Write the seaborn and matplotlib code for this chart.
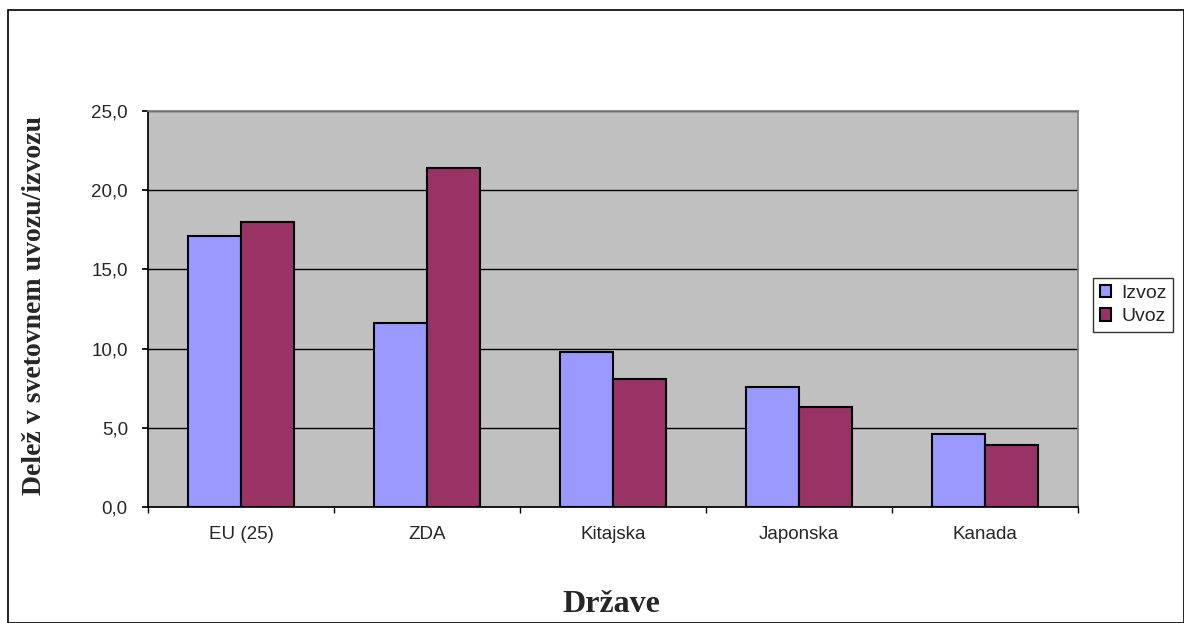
import matplotlib
matplotlib.use("Agg")
import matplotlib.pyplot as plt
import seaborn as sns
import pandas as pd
from matplotlib.patches import Rectangle

categories = ["EU (25)", "ZDA", "Kitajska", "Japonska", "Kanada"]
izvoz = [17.1, 11.6, 9.8, 7.6, 4.6]
uvoz = [18.0, 21.4, 8.1, 6.3, 3.9]
series = ["Izvoz", "Uvoz"]
yticks = [0, 5, 10, 15, 20, 25]

df = pd.DataFrame({
    "Država": categories * 2,
    "Vrednost": izvoz + uvoz,
    "Serija": ["Izvoz"] * len(categories) + ["Uvoz"] * len(categories),
})

sns.set_theme(style="white")
plt.rcParams["font.family"] = ["Liberation Sans", "DejaVu Sans"]

fig = plt.figure(figsize=(11.84, 6.23), dpi=100)
ax = fig.add_axes([148 / 1184, 1 - 507 / 623, 930 / 1184, 396 / 623])
ax.set_facecolor("#c0c0c0")

sns.barplot(data=df, x="Država", y="Vrednost", hue="Serija", hue_order=series,
            order=categories, palette=["#9999ff", "#993366"], width=0.57,
            edgecolor="black", linewidth=1.5, saturation=1, ax=ax, zorder=3)

ax.set_ylim(0, 25)
ax.set_xlim(-0.5, len(categories) - 0.5)
ax.set_yticks(yticks)
ax.set_yticklabels([f"{v:.1f}".replace(".", ",") for v in yticks], fontsize=13.5)
ax.yaxis.grid(True, color="black", linewidth=1)
ax.set_axisbelow(True)
for sp in ["top", "right"]:
    ax.spines[sp].set_color("#808080")
ax.spines["left"].set_color("black")
ax.spines["bottom"].set_color("black")

ax.set_xticks([i for i in range(len(categories))])
ax.set_xticklabels(categories, fontsize=13.5)
ax.tick_params(axis="x", length=0, pad=14)
ax.set_xticks([i - 0.5 for i in range(len(categories) + 1)], minor=True)
ax.tick_params(axis="x", which="minor", length=4.5, direction="out", color="black", bottom=True)
ax.tick_params(axis="y", length=4.5, direction="out", color="black", left=True, pad=10)

ax.set_xlabel("")
ax.set_ylabel("Delež v svetovnem uvozu/izvozu", family=["Liberation Serif"],
              fontweight="bold", fontsize=20)
ax.yaxis.set_label_coords((47 - 148) / 930, 0.51)
fig.text(611 / 1184, 1 - 605 / 623, "Države", family=["Liberation Serif"],
         fontweight="bold", fontsize=23, ha="center", va="center")

leg = ax.legend(loc="center left", bbox_to_anchor=(1.016, 0.51), frameon=True,
                fancybox=False, edgecolor="black", fontsize=14, handlelength=0.6,
                handleheight=0.6, handletextpad=0.5, borderpad=0.35, labelspacing=0.35,
                borderaxespad=0)
leg.get_frame().set_linewidth(1)

fig.patches.append(Rectangle((8 / 1184, 0), 1 - 8 / 1184 - 0.5 / 1184, 1 - 10 / 623,
                             transform=fig.transFigure, fill=False,
                             edgecolor="black", linewidth=1.2))

fig.savefig("out.png", dpi=100, facecolor="white")
